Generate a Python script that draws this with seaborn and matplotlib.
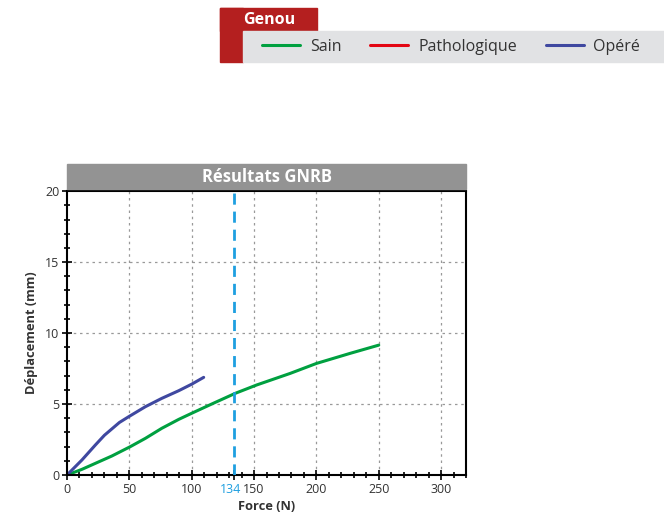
import numpy as np
import pandas as pd
import matplotlib
matplotlib.use("Agg")
import matplotlib.pyplot as plt
import matplotlib.transforms as mtransforms
import seaborn as sns
from matplotlib.lines import Line2D
from matplotlib.patches import Rectangle

# --- data ---
sain_force = [0, 12, 22.7, 36, 50.8, 62.8, 76, 89.6, 100, 116, 134.8, 152, 179, 200, 227, 250]
sain_depl = [0, 0.4, 0.82, 1.34, 2.0, 2.58, 3.29, 3.92, 4.35, 5.0, 5.75, 6.34, 7.16, 7.86, 8.57, 9.15]
opere_force = [0, 12, 22.7, 30, 36, 42, 49.5, 62.8, 76, 89.6, 100, 109.6]
opere_depl = [0, 1.06, 2.11, 2.8, 3.25, 3.7, 4.11, 4.81, 5.4, 5.94, 6.4, 6.88]
seuil = 134
legend_labels = ["Sain", "Pathologique", "Opéré"]
legend_colors = ["#00a040", "#e30613", "#3f48a0"]

sns.set_style("ticks")
plt.rcParams["font.family"] = ["Open Sans", "DejaVu Sans"]
TXT = "#333333"

df = pd.concat([
    pd.DataFrame({"Force": sain_force, "Depl": sain_depl, "Etat": "Sain"}),
    pd.DataFrame({"Force": opere_force, "Depl": opere_depl, "Etat": "Opéré"}),
])

fig = plt.figure(figsize=(6.64, 5.18), dpi=100)
ax = fig.add_axes([0.1009, 0.083, 0.601, 0.548])

sns.lineplot(data=df, x="Force", y="Depl", hue="Etat",
             palette={"Sain": legend_colors[0], "Opéré": legend_colors[2]},
             lw=2.2, ax=ax, legend=False, estimator=None, sort=False)
for ln in ax.lines:
    ln.set_solid_joinstyle("round")
    ln.set_solid_capstyle("round")
ax.axvline(seuil, color="#1e9fe0", lw=2, ls=(0, (4, 2.5)), zorder=3)

ax.set_xlim(0, 320)
ax.set_ylim(0, 20)
ax.set_xticks([0, 50, 100, seuil, 150, 200, 250, 300])
ax.set_xticks(np.arange(0, 321, 10), minor=True)
ax.set_yticks([0, 5, 10, 15, 20])
ax.set_yticks(np.arange(0, 21, 1), minor=True)
ax.tick_params(axis="both", which="major", direction="inout", length=7, width=1.2,
               labelsize=9, labelcolor=TXT, color="black", pad=2)
ax.tick_params(axis="both", which="minor", direction="inout", length=5, width=1.2,
               color="black")
for lbl in ax.get_xticklabels():
    if lbl.get_text() == str(seuil):
        lbl.set_color("#1e9fe0")
        lbl.set_transform(lbl.get_transform() +
                          mtransforms.ScaledTranslation(-4 / 100, 0, fig.dpi_scale_trans))

# dotted grid at the round values
for xv in [50, 100, 150, 200, 250, 300]:
    ax.axvline(xv, color="#999999", lw=0.9, ls=(0, (2, 3)), zorder=0)
for yv in [5, 10, 15]:
    ax.axhline(yv, color="#999999", lw=0.9, ls=(0, (2, 3)), zorder=0)

for s in ax.spines.values():
    s.set_visible(True)
    s.set_color("black")
    s.set_linewidth(1.5)

ax.set_xlabel("Force (N)", fontsize=9.3, fontweight="bold", color=TXT, labelpad=3)
ax.set_ylabel("Déplacement (mm)", fontsize=9.3, fontweight="bold", color=TXT, labelpad=5)

# grey title band above the plot
fig.patches.append(Rectangle((67 / 664, 1 - 189 / 518), 399 / 664, 25 / 518,
                             transform=fig.transFigure, color="#939393", zorder=0))
fig.text(267 / 664, 1 - 177 / 518, "Résultats GNRB", color="white", fontsize=12,
         fontweight="bold", ha="center", va="center")

# legend header
fig.patches.append(Rectangle((220 / 664, 1 - 62 / 518), 23 / 664, 54 / 518,
                             transform=fig.transFigure, color="#b41f1f"))
fig.patches.append(Rectangle((220 / 664, 1 - 31 / 518), 97 / 664, 23 / 518,
                             transform=fig.transFigure, color="#b41f1f"))
fig.patches.append(Rectangle((243 / 664, 1 - 62 / 518), 421 / 664, 31 / 518,
                             transform=fig.transFigure, color="#e1e2e4"))
fig.text(243 / 664, 1 - 19.5 / 518, "Genou", color="white", fontsize=11.5,
         fontweight="bold", ha="left", va="center")

handles = [Line2D([], [], color=c, lw=2.2) for c in legend_colors]
fig.legend(handles, legend_labels, loc="center left",
           bbox_to_anchor=(262 / 664, 1 - 47 / 518), ncol=3, frameon=False,
           fontsize=11.5, handlelength=2.4, handletextpad=0.6, columnspacing=1.8,
           labelcolor=TXT, borderaxespad=0, borderpad=0)

fig.savefig("out.png", dpi=100)
